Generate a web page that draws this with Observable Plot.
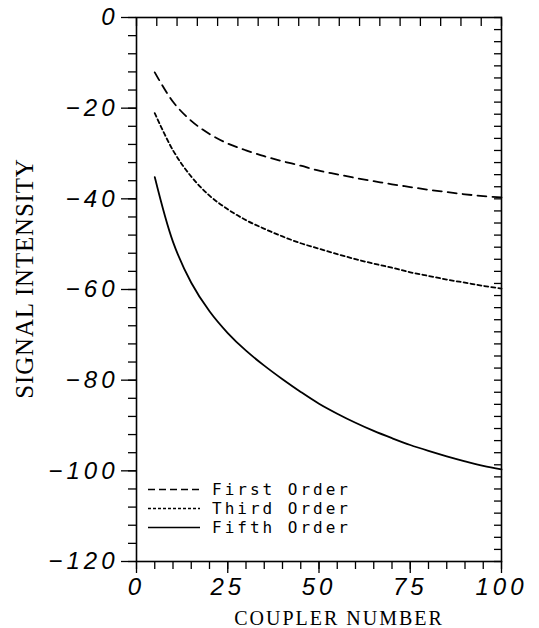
<!DOCTYPE html>
<html><head><meta charset="utf-8">
<script src="https://cdn.jsdelivr.net/npm/d3@7"></script>
<script src="https://cdn.jsdelivr.net/npm/@observablehq/plot@0.6"></script>
<style>
body{margin:0;background:#fff;}
#wrap{position:relative;width:539px;height:628px;overflow:hidden;}
#legend{position:absolute;left:146px;top:479.5px;font-family:"DejaVu Sans Mono",monospace;font-size:16px;letter-spacing:3px;color:#000;}
#legend .row{display:flex;align-items:center;height:19px;line-height:19px;}
#legend svg{width:58px;height:19px;margin-right:8px;}
</style></head><body><div id="wrap"></div>
<script>
const couplerNumber = [5,10,15,20,25,30,35,40,45,50,55,60,65,70,75,80,85,90,95,100];
const firstOrder = [-12.1,-18.6,-22.8,-25.7,-27.8,-29.3,-30.6,-31.7,-32.7,-33.8,-34.6,-35.4,-36.1,-36.8,-37.4,-38.0,-38.5,-39.0,-39.4,-39.7];
const thirdOrder = [-21.1,-29.3,-35.1,-39.3,-42.3,-44.7,-46.6,-48.3,-49.8,-51.0,-52.2,-53.3,-54.3,-55.2,-56.2,-57.0,-57.8,-58.5,-59.2,-59.8];
const fifthOrder = [-35.2,-49.5,-58.5,-64.8,-69.6,-73.5,-76.8,-79.8,-82.6,-85.2,-87.4,-89.4,-91.2,-92.8,-94.3,-95.6,-96.8,-97.9,-98.9,-99.7];
const seriesNames = ["First Order","Third Order","Fifth Order"];
const seriesDash = ["9,6","4,3","none"];
const xTickLabels = [0,25,50,75,100];
const yTickLabels = [0,-20,-40,-60,-80,-100,-120];
const xTitle = "COUPLER NUMBER";
const yTitle = "SIGNAL INTENSITY";

const seriesValues = [firstOrder, thirdOrder, fifthOrder];
const rows = seriesValues.flatMap((vals, i) => vals.map((v, j) => ({x: couplerNumber[j], y: v, s: seriesNames[i]})));
const fmt = d => (d < 0 ? "\u2212" : "") + Math.abs(d);
const blank = () => "";

const lineMarks = seriesNames.map((name, i) =>
  Plot.line(rows.filter(r => r.s === name), {x: "x", y: "y", stroke: "#000", strokeWidth: 1.8,
    strokeDasharray: seriesDash[i], curve: "catmull-rom"}));

const chart = Plot.plot({
  width: 539, height: 628,
  marginLeft: 136, marginRight: 38, marginTop: 17, marginBottom: 67,
  style: {background: "#fff", color: "#000", fontFamily: "'Liberation Sans', Arial, sans-serif"},
  x: {domain: [0, 100]},
  y: {domain: [-120, 0]},
  marks: [
    Plot.frame({stroke: "#000", strokeWidth: 1.6}),
    Plot.axisY(d3.range(-120, 0.01, 4), {anchor: "left", tickSize: 8, tickFormat: blank, label: null, strokeWidth: 1.3}),
    Plot.axisY(yTickLabels, {anchor: "left", tickSize: 15, tickPadding: 3, tickFormat: fmt, label: null,
      fontSize: 24, fontStyle: "italic", strokeWidth: 1.3}),
    Plot.axisY(d3.range(0, 46).map(i => -120 + i * 120 / 45), {anchor: "right", tickSize: -8, tickFormat: blank, label: null, strokeWidth: 1.3}),
    Plot.axisX(d3.range(0, 19).map(i => i * 100 / 18), {anchor: "top", tickSize: -8, tickFormat: blank, label: null, strokeWidth: 1.3}),
    Plot.axisX(d3.range(0, 100.01, 5), {anchor: "bottom", tickSize: 8, tickFormat: blank, label: null, strokeWidth: 1.3}),
    Plot.axisX(xTickLabels, {anchor: "bottom", tickSize: 12, tickPadding: 4, tickFormat: fmt, label: null,
      fontSize: 24, fontStyle: "italic", strokeWidth: 1.3}),
    Plot.text([yTitle], {frameAnchor: "left", text: d => d, rotate: -90, dx: -112, dy: -11,
      textAnchor: "middle", lineAnchor: "middle",
      fontFamily: "'Liberation Serif', 'Times New Roman', serif", fontSize: 25, fill: "#000"}),
    Plot.text([xTitle], {frameAnchor: "bottom", text: d => d, dx: 20, dy: 57,
      textAnchor: "middle", lineAnchor: "middle",
      fontFamily: "'Liberation Serif', 'Times New Roman', serif", fontSize: 20, fill: "#000"}),
    ...lineMarks
  ]
});
const wrap = document.getElementById("wrap");
wrap.appendChild(chart);
// text styling (style only)
const tickTexts = new Set([...xTickLabels, ...yTickLabels].map(fmt));
chart.querySelectorAll("text").forEach(t => {
  if (t.textContent === xTitle) t.style.letterSpacing = "2px";
  else if (t.textContent === yTitle) t.style.letterSpacing = "0.8px";
  else if (tickTexts.has(t.textContent)) {
    t.style.fontStyle = "italic";
    t.style.fontSize = "24px";
    t.style.letterSpacing = "4px";
    t.style.fontFamily = "'Liberation Sans', Arial, sans-serif";
  }
});

const legend = document.createElement("div");
legend.id = "legend";
seriesNames.forEach((name, i) => {
  const row = document.createElement("div");
  row.className = "row";
  row.innerHTML = `<svg><line x1="2" x2="54" y1="9.5" y2="9.5" stroke="#000" stroke-width="1.6" stroke-dasharray="${seriesDash[i] === "none" ? "" : (i === 0 ? "7,4" : "3,2")}"/></svg><span>${name}</span>`;
  legend.appendChild(row);
});
wrap.appendChild(legend);
</script>
</body></html>
